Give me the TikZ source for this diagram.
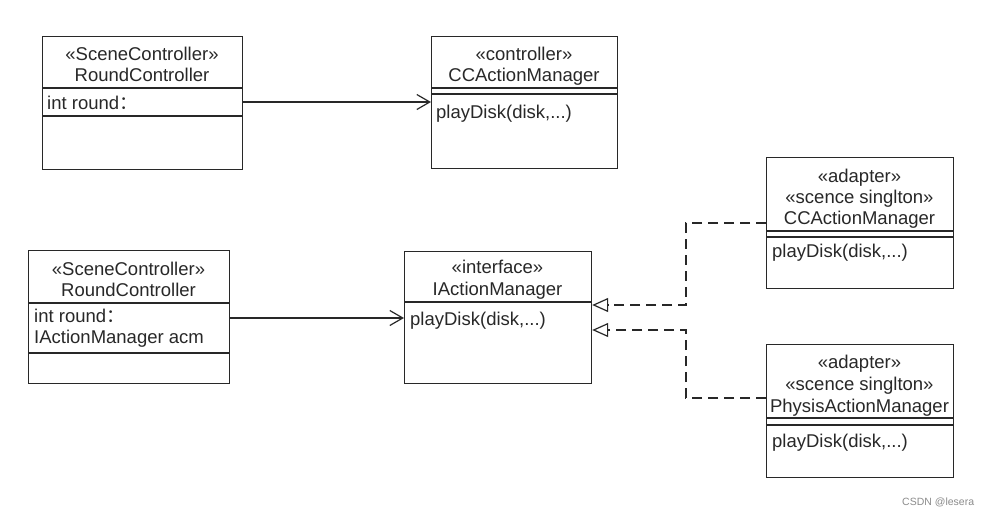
\documentclass[tikz,border=0pt]{standalone}
\usepackage{fontspec}
\setmainfont{Liberation Sans}
\newfontfamily\cjk{Noto Sans CJK SC}
\usetikzlibrary{arrows.meta}
\definecolor{ink}{RGB}{40,40,40}
\begin{document}
\begin{tikzpicture}[x=1pt,y=-1pt,
  umlbox/.style={draw=ink,line width=1.2pt,rectangle,anchor=north west,inner sep=0pt},
  rule/.style={draw=ink,line width=1.2pt},
  ctext/.style={anchor=base,inner sep=0pt,text=ink,font=\fontsize{18.5}{21.5}\selectfont},
  ltext/.style={anchor=base west,inner sep=0pt,text=ink,font=\fontsize{18.5}{21.5}\selectfont},
  assoc/.style={draw=ink,line width=1.2pt,-{Straight Barb[length=13pt,width=15pt,line width=1.2pt]}},
  real/.style={draw=ink,line width=1.2pt,dash pattern=on 10pt off 6pt,-{Triangle[open,length=16pt,width=14pt,line width=1.2pt,fill=white]}}
]
\useasboundingbox (0,0) rectangle (991,517);
\fill[white] (0,0) rectangle (991,517);

% boxes
\node[umlbox,minimum width=200pt,minimum height=133pt] (rc1) at (42,36) {};
\node[umlbox,minimum width=186pt,minimum height=132pt] (cc1) at (431,36) {};
\node[umlbox,minimum width=201pt,minimum height=133pt] (rc2) at (28,250) {};
\node[umlbox,minimum width=187pt,minimum height=132pt] (iam) at (404,251) {};
\node[umlbox,minimum width=187pt,minimum height=131pt] (ad1) at (766,157) {};
\node[umlbox,minimum width=187pt,minimum height=133pt] (ad2) at (766,344) {};

% compartment lines
\draw[rule] (42,88) -- (242,88);
\draw[rule] (42,116) -- (242,116);
\draw[rule] (431,88) -- (617,88);
\draw[rule] (431,94) -- (617,94);
\draw[rule] (28,303) -- (229,303);
\draw[rule] (28,353) -- (229,353);
\draw[rule] (404,302) -- (591,302);
\draw[rule] (766,231) -- (953,231);
\draw[rule] (766,237) -- (953,237);
\draw[rule] (766,418) -- (953,418);
\draw[rule] (766,425) -- (953,425);

% texts
\node[ctext] (t1a) at (142,60) {«SceneController»};
\node[ctext] (t1b) at (142,81) {RoundController};
\node[ltext] (t1c) at (47,109) {int round\cjk{：}};

\node[ctext] (t2a) at (524,60) {«controller»};
\node[ctext] (t2b) at (524,81) {CCActionManager};
\node[ltext] (t2c) at (436,118) {playDisk(disk,...)};

\node[ctext] (t3a) at (128.5,275) {«SceneController»};
\node[ctext] (t3b) at (128.5,296) {RoundController};
\node[ltext] (t3c) at (34,322) {int round\cjk{：}};
\node[ltext] (t3d) at (34,343) {IActionManager acm};

\node[ctext] (t4a) at (497.5,273) {«interface»};
\node[ctext] (t4b) at (497.5,295) {IActionManager};
\node[ltext] (t4c) at (410,325) {playDisk(disk,...)};

\node[ctext] (t5a) at (859.5,182) {«adapter»};
\node[ctext] (t5b) at (859.5,203) {«scence singlton»};
\node[ctext] (t5c) at (859.5,224) {CCActionManager};
\node[ltext] (t5d) at (772,257) {playDisk(disk,...)};

\node[ctext] (t6a) at (859.5,368) {«adapter»};
\node[ctext] (t6b) at (859.5,390) {«scence singlton»};
\node[ctext] (t6c) at (859.5,412) {PhysisActionManager};
\node[ltext] (t6d) at (772,447) {playDisk(disk,...)};

% connectors
\coordinate (y1) at (0,102);
\coordinate (y2) at (0,318);
\coordinate (b1) at (686,223);
\coordinate (b2) at (686,398);
\draw[assoc] (rc1.east |- y1) -- (cc1.west |- y1);
\draw[assoc] (rc2.east |- y2) -- (iam.west |- y2);
\draw[real] (ad1.west |- b1) -- (b1) -- (686,305) -- (iam.east |- 0,305);
\draw[real] (ad2.west |- b2) -- (b2) -- (686,330) -- (iam.east |- 0,330);

% watermark
\node[anchor=base west,inner sep=0pt,text=black!45,font=\fontsize{10.5}{12}\selectfont] (wm) at (902,505) {CSDN @lesera};
\end{tikzpicture}
\end{document}
